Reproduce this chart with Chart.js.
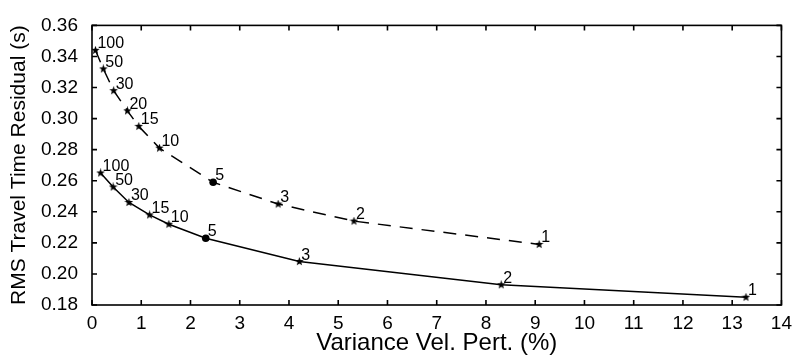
<!DOCTYPE html>
<html lang="en">
<head>
    <meta charset="UTF-8">
    <title>RMS Travel Time Residual vs Variance</title>
    <script src="https://cdn.jsdelivr.net/npm/chart.js"></script>
    <style>
        html, body { margin: 0; padding: 0; background: #fff; }
        .chart-container { position: relative; width: 799px; height: 362px; }
    </style>
</head>
<body>
    <div class="chart-container">
        <canvas id="lcurve"></canvas>
    </div>

    <script>
        // Upper (dashed) trade-off curve
        const dashedX = [0.07, 0.23, 0.44, 0.72, 0.95, 1.37, 2.46, 3.78, 5.32, 9.08];
        const dashedY = [0.344, 0.332, 0.318, 0.305, 0.295, 0.281, 0.259, 0.245, 0.234, 0.219];
        const dashedLabels = ['100', '50', '30', '20', '15', '10', '5', '3', '2', '1'];

        // Lower (solid) trade-off curve
        const solidX = [0.175, 0.43, 0.75, 1.17, 1.56, 2.31, 4.21, 8.31, 13.28];
        const solidY = [0.265, 0.256, 0.246, 0.238, 0.232, 0.223, 0.208, 0.193, 0.185];
        const solidLabels = ['100', '50', '30', '15', '10', '5', '3', '2', '1'];

        const xTicks = [0, 1, 2, 3, 4, 5, 6, 7, 8, 9, 10, 11, 12, 13, 14];
        const yTicks = [0.18, 0.20, 0.22, 0.24, 0.26, 0.28, 0.30, 0.32, 0.34, 0.36];

        const FONT = '"Liberation Sans", Arial, Helvetica, sans-serif';

        // small filled five-point star used as marker
        function makeStar(size) {
            const c = document.createElement('canvas');
            c.width = size; c.height = size;
            const g = c.getContext('2d');
            const cx = size / 2, cy = size / 2, ro = size / 2, ri = ro * 0.42;
            g.beginPath();
            for (let i = 0; i < 10; i++) {
                const r = i % 2 === 0 ? ro : ri;
                const a = -Math.PI / 2 + i * Math.PI / 5;
                g.lineTo(cx + r * Math.cos(a), cy + r * Math.sin(a));
            }
            g.closePath();
            g.fillStyle = '#000';
            g.fill();
            return c;
        }
        const star = makeStar(9);

        function toPoints(xs, ys) {
            return xs.map((x, i) => ({ x: x, y: ys[i] }));
        }
        // the "5" point of each curve is a filled dot
        function styles(labels) {
            return labels.map(l => l === '5' ? 'circle' : star);
        }

        // inward ticks on all four sides + frame
        const frame = {
            id: 'frame',
            afterDraw(chart) {
                const { ctx, chartArea: a, scales } = chart;
                ctx.save();
                ctx.strokeStyle = '#000';
                ctx.lineWidth = 1.6;
                ctx.strokeRect(a.left, a.top, a.right - a.left, a.bottom - a.top);
                const t = 5;
                ctx.beginPath();
                xTicks.forEach(v => {
                    const px = scales.x.getPixelForValue(v);
                    ctx.moveTo(px, a.bottom); ctx.lineTo(px, a.bottom - t);
                    ctx.moveTo(px, a.top); ctx.lineTo(px, a.top + t);
                });
                yTicks.forEach(v => {
                    const py = scales.y.getPixelForValue(v);
                    ctx.moveTo(a.left, py); ctx.lineTo(a.left + t, py);
                    ctx.moveTo(a.right, py); ctx.lineTo(a.right - t, py);
                });
                ctx.stroke();
                ctx.restore();
            }
        };

        // damping labels next to each point
        const pointLabels = {
            id: 'pointLabels',
            afterDatasetsDraw(chart) {
                const ctx = chart.ctx;
                ctx.save();
                ctx.fillStyle = '#000';
                ctx.font = '16px ' + FONT;
                ctx.textAlign = 'left';
                ctx.textBaseline = 'alphabetic';
                chart.data.datasets.forEach((ds, i) => {
                    chart.getDatasetMeta(i).data.forEach((pt, j) => {
                        ctx.fillText(ds.pointText[j], pt.x + 2, pt.y - 2);
                    });
                });
                ctx.restore();
            }
        };

        const ctx = document.getElementById('lcurve').getContext('2d');
        new Chart(ctx, {
            type: 'scatter',
            data: {
                datasets: [
                    {
                        data: toPoints(dashedX, dashedY),
                        pointText: dashedLabels,
                        showLine: true,
                        borderColor: '#000',
                        backgroundColor: '#000',
                        borderWidth: 1.5,
                        borderDash: [13, 9],
                        pointStyle: styles(dashedLabels),
                        pointRadius: 3.8,
                        pointBorderWidth: 0
                    },
                    {
                        data: toPoints(solidX, solidY),
                        pointText: solidLabels,
                        showLine: true,
                        borderColor: '#000',
                        backgroundColor: '#000',
                        borderWidth: 1.5,
                        pointStyle: styles(solidLabels),
                        pointRadius: 3.8,
                        pointBorderWidth: 0
                    }
                ]
            },
            options: {
                responsive: true,
                maintainAspectRatio: false,
                animation: false,
                events: [],
                layout: { padding: { top: 11, right: 12, left: 0, bottom: 0 } },
                plugins: {
                    legend: { display: false },
                    tooltip: { enabled: false }
                },
                scales: {
                    x: {
                        type: 'linear',
                        min: 0,
                        max: 14,
                        afterBuildTicks: s => { s.ticks = xTicks.map(v => ({ value: v })); },
                        afterFit: s => { s.height = 57; },
                        grid: { display: false, drawTicks: false },
                        border: { display: false },
                        ticks: {
                            padding: 7,
                            color: '#000',
                            font: { family: FONT, size: 19 },
                            maxRotation: 0
                        },
                        title: {
                            display: true,
                            text: 'Variance Vel. Pert. (%)',
                            color: '#000',
                            font: { family: FONT, size: 24 },
                            padding: { top: 0, bottom: 4 }
                        }
                    },
                    y: {
                        type: 'linear',
                        min: 0.18,
                        max: 0.36,
                        afterBuildTicks: s => { s.ticks = yTicks.map(v => ({ value: v })); },
                        afterFit: s => { s.width = 92; },
                        grid: { display: false, drawTicks: false },
                        border: { display: false },
                        ticks: {
                            padding: 14,
                            color: '#000',
                            font: { family: FONT, size: 19 },
                            callback: v => v.toFixed(2)
                        },
                        title: {
                            display: true,
                            text: 'RMS Travel Time Residual (s)',
                            color: '#000',
                            font: { family: FONT, size: 21 },
                            padding: { top: 7, bottom: 0 }
                        }
                    }
                }
            },
            plugins: [frame, pointLabels]
        });
    </script>
</body>
</html>
